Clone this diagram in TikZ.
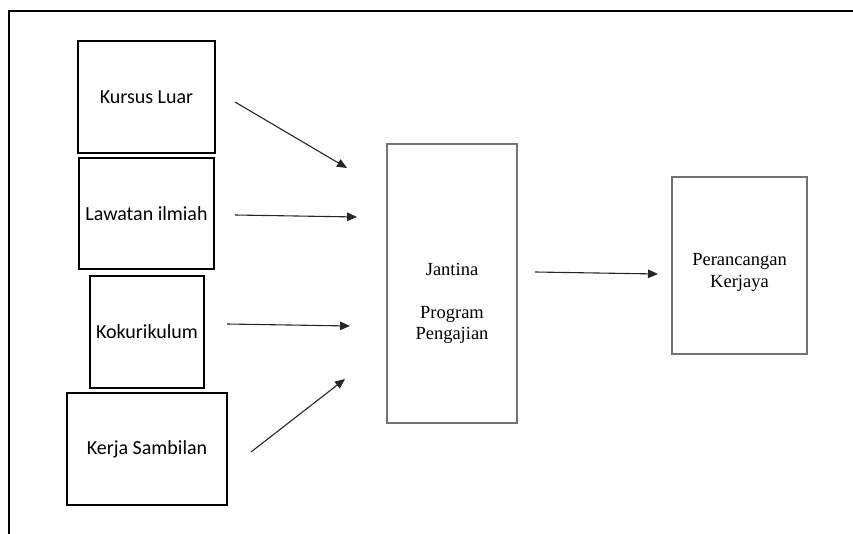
\documentclass[tikz,border=0pt]{standalone}
\usepackage{fontspec}
\setmainfont{Liberation Serif}
\newfontfamily\calfont{Carlito}
\usetikzlibrary{arrows.meta}
\tikzset{
  leftbox/.style={draw=black, line width=2.8pt, rectangle, inner sep=0pt, font=\calfont\fontsize{20}{22}\selectfont},
  thinbox/.style={draw=black!55, line width=1.1pt, rectangle, inner sep=0pt},
  serif/.style={align=center, inner sep=0pt, font=\fontsize{18.5}{21}\selectfont},
  arr/.style={draw=black!85, line width=1.1pt, -{Triangle[length=10pt,width=8.5pt]}},
  frameline/.style={draw=black, line width=2pt}
}
\begin{document}
\begin{tikzpicture}[x=1pt,y=-1pt]
\useasboundingbox (0,0) rectangle (853,534);
% outer frame (top and left)
\coordinate (fbl) at (9,534);
\coordinate (ftl) at (9,11);
\coordinate (ftr) at (853,11);
\draw[frameline] (fbl) -- (ftl) -- (ftr);
% left boxes
\node[leftbox, minimum width=137pt, minimum height=112pt] (k1) at (146.5,97) {Kursus Luar};
\node[leftbox, minimum width=135pt, minimum height=111pt] (k2) at (146.5,213.5) {Lawatan ilmiah};
\node[leftbox, minimum width=114pt, minimum height=112pt] (k3) at (147,332) {Kokurikulum};
\node[leftbox, minimum width=160pt, minimum height=112pt] (k4) at (147,449) {Kerja Sambilan};
% middle and right boxes
\node[thinbox, minimum width=130pt, minimum height=279pt] (mid) at (452,283.5) {};
\node[serif] (midtext) at (452,303.5) {Jantina\\[22pt]Program\\Pengajian};
\node[thinbox, minimum width=135pt, minimum height=177pt] (rt) at (739.5,265.5) {};
\node[serif, font=\fontsize{18.5}{22}\selectfont] (rttext) at (739.5,272.5) {Perancangan\\Kerjaya};
% arrow end points
\coordinate (a1s) at (235,102);
\coordinate (a1e) at (347,168);
\coordinate (a2s) at (235,215);
\coordinate (a2e) at (357,217);
\coordinate (a3s) at (227,324);
\coordinate (a3e) at (350,326);
\coordinate (a4s) at (251,452);
\coordinate (a4e) at (345,379);
\coordinate (a5s) at (535,272);
\coordinate (a5e) at (658,274);
\draw[arr] (a1s) -- (a1e);
\draw[arr] (a2s) -- (a2e);
\draw[arr] (a3s) -- (a3e);
\draw[arr] (a4s) -- (a4e);
\draw[arr] (a5s) -- (a5e);
\end{tikzpicture}
\end{document}
